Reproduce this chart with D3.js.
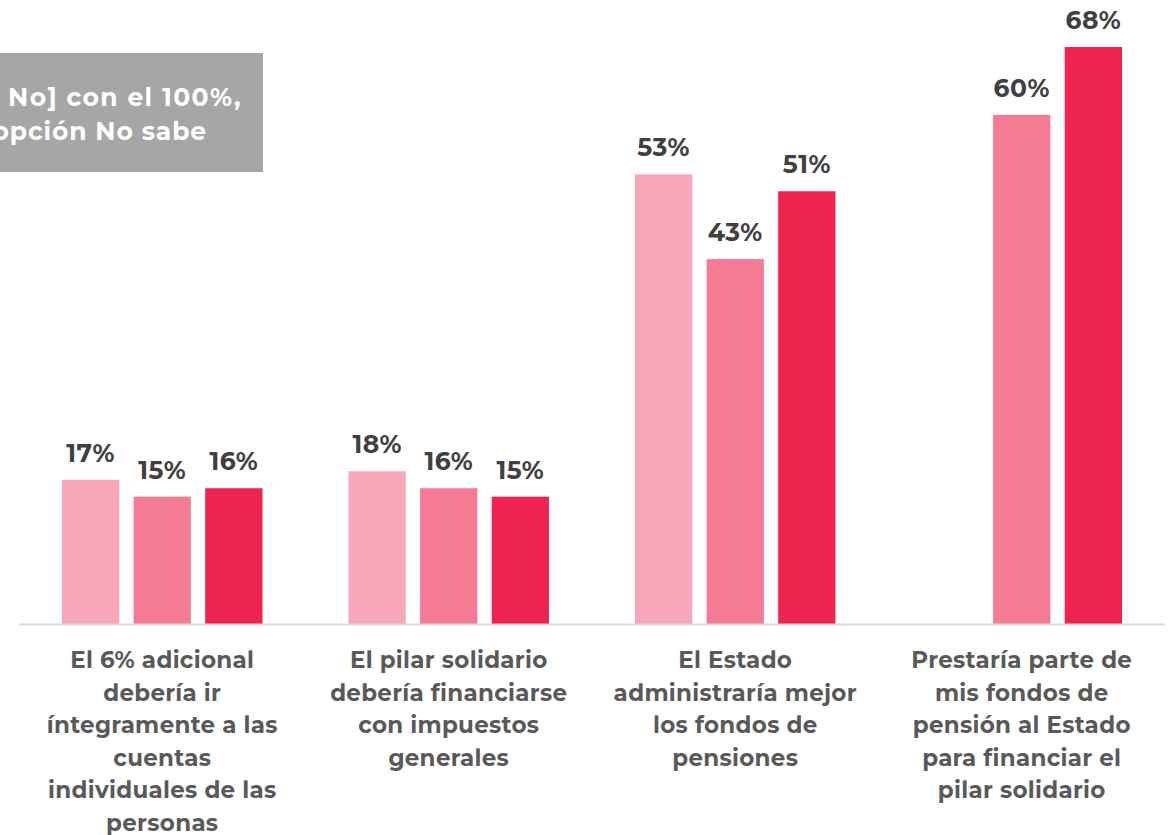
<!DOCTYPE html>
<html>
<head>
<meta charset="utf-8">
<script src="https://cdn.jsdelivr.net/npm/d3@7"></script>
<style>
  body { margin: 0; background: #fff; overflow: hidden; }
  svg { display: block; font-family: "Montserrat", "Open Sans", sans-serif; font-weight: 700; }
</style>
</head>
<body>
<div id="chart"></div>
<script>
// data
const categories = [
  ["El 6% adicional", "debería ir", "íntegramente a las", "cuentas", "individuales de las", "personas"],
  ["El pilar solidario", "debería financiarse", "con impuestos", "generales"],
  ["El Estado", "administraría mejor", "los fondos de", "pensiones"],
  ["Prestaría parte de", "mis fondos de", "pensión al Estado", "para financiar el", "pilar solidario"]
];
const series = ["s1", "s2", "s3"];
const s1Values = [17, 18, 53, null];
const s2Values = [15, 16, 43, 60];
const s3Values = [16, 15, 51, 68];
const noteLines = ["No] con el 100%,", "opción No sabe"];

const colors = ["#f8a7ba", "#f57a94", "#ee234f"];

////////////////////////////////////////////////////////////
//// Setup /////////////////////////////////////////////////
////////////////////////////////////////////////////////////
const width = 1175;
const height = 835;
const baseY = 624;

const data = categories.map((c, i) => ({
  key: i,
  lines: c,
  values: [s1Values[i], s2Values[i], s3Values[i]]
}));

const x0 = d3.scaleBand()
  .domain(data.map(d => d.key))
  .range([19, 1165]);

const x1 = d3.scaleBand()
  .domain(series)
  .range([43, x0.bandwidth() - 43])
  .paddingInner(0.2);

const maxVal = d3.max([...s1Values, ...s2Values, ...s3Values]);
const y = d3.scaleLinear()
  .domain([0, maxVal])
  .range([baseY, 47]);

const svg = d3.select("#chart")
  .append("svg")
  .attr("width", width)
  .attr("height", height);

////////////////////////////////////////////////////////////
//// Render ////////////////////////////////////////////////
////////////////////////////////////////////////////////////
// note box (cut off at the left edge, as in the original slide)
svg.append("rect")
  .attr("x", 0)
  .attr("y", 53)
  .attr("width", 263)
  .attr("height", 119)
  .attr("fill", "#a6a6a6");

svg.append("g")
  .selectAll("text")
  .data(noteLines)
  .join("text")
  .attr("x", (d, i) => i === 0 ? 242 : 207)
  .attr("y", (d, i) => 106 + i * 34)
  .attr("text-anchor", "end")
  .attr("fill", "#fff")
  .attr("font-size", 25)
  .attr("letter-spacing", (d, i) => i === 0 ? 1.4 : 0.9)
  .text(d => d);

// bars
const group = svg.append("g")
  .selectAll("g")
  .data(data)
  .join("g")
  .attr("transform", d => `translate(${x0(d.key)},0)`);

const cells = group.selectAll("g")
  .data(d => d.values.map((v, j) => ({ s: series[j], j, v })).filter(e => e.v != null))
  .join("g");

cells.append("rect")
  .attr("x", d => x1(d.s))
  .attr("y", d => y(d.v))
  .attr("width", x1.bandwidth())
  .attr("height", d => baseY - y(d.v))
  .attr("fill", d => colors[d.j]);

cells.append("text")
  .attr("x", d => x1(d.s) + x1.bandwidth() / 2)
  .attr("y", d => y(d.v) - 18)
  .attr("text-anchor", "middle")
  .attr("fill", "#404040")
  .attr("font-size", 25)
  .attr("letter-spacing", 0.5)
  .text(d => d.v + "%");

// axis
svg.append("line")
  .attr("x1", x0.range()[0])
  .attr("x2", x0.range()[1])
  .attr("y1", baseY + 0.5)
  .attr("y2", baseY + 0.5)
  .attr("stroke", "#d9d9d9")
  .attr("stroke-width", 2);

// category labels
svg.append("g")
  .selectAll("text")
  .data(data)
  .join("text")
  .attr("x", d => x0(d.key) + x0.bandwidth() / 2)
  .attr("y", 668)
  .attr("text-anchor", "middle")
  .attr("fill", "#595959")
  .attr("font-size", 23)
  .attr("letter-spacing", 0.3)
  .selectAll("tspan")
  .data(d => d.lines)
  .join("tspan")
  .attr("x", function () { return d3.select(this.parentNode).attr("x"); })
  .attr("dy", (d, i) => i === 0 ? 0 : 32.5)
  .text(d => d);
</script>
</body>
</html>
